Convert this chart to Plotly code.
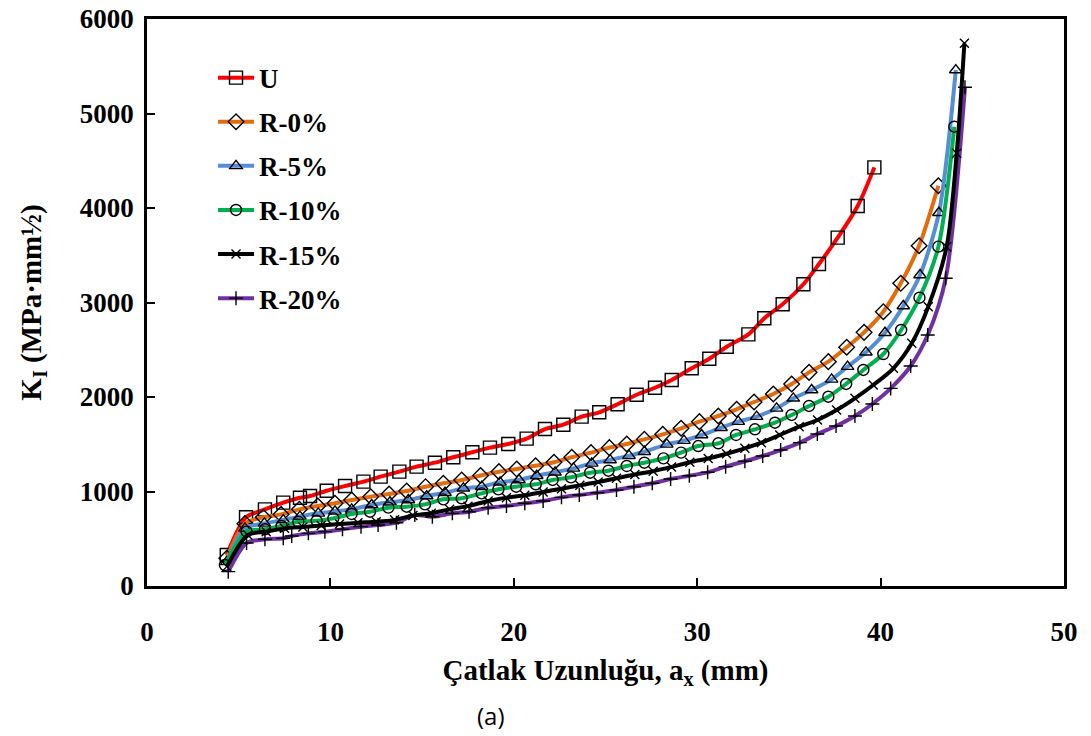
import plotly.graph_objects as go

# ---- data ----
u_x = [4.35, 5.4, 6.43, 7.43, 8.34, 8.89, 9.8, 10.8, 11.8, 12.74, 13.76, 14.7, 15.7, 16.7, 17.74, 18.7,
       19.7, 20.7, 21.7, 22.7, 23.7, 24.66, 25.66, 26.7, 27.7, 28.61, 29.7, 30.66, 31.61, 32.79, 33.66,
       34.66, 35.79, 36.64, 37.66, 38.75, 39.66]
u_y = [328, 727, 811, 882, 934, 952, 1008, 1058, 1104, 1157, 1210, 1263, 1305, 1362, 1415, 1464,
       1503, 1559, 1661, 1707, 1792, 1838, 1923, 2024, 2098, 2180, 2304, 2405, 2532, 2663, 2833,
       2981, 3193, 3407, 3686, 4021, 4430]

r0_x = [4.35, 5.34, 6.34, 7.31, 8.31, 9.31, 10.25, 11.16, 12.2, 13.2, 14.16, 15.19, 16.16, 17.16, 18.19,
        19.19, 20.16, 21.19, 22.19, 23.16, 24.21, 25.21, 26.16, 27.12, 28.12, 29.12, 30.12, 31.15, 32.15,
        33.1, 34.15, 35.15, 36.1, 37.15, 38.15, 39.1, 40.15, 41.1, 42.1, 43.15]
r0_y = [293, 660, 727, 758, 811, 847, 875, 910, 945, 973, 1005, 1051, 1087, 1122, 1170,
        1210, 1238, 1273, 1309, 1362, 1411, 1464, 1503, 1552, 1605, 1669, 1739, 1799, 1870,
        1947, 2032, 2138, 2261, 2374, 2526, 2684, 2903, 3203, 3601, 4236]

r5_x = [4.35, 5.34, 6.4, 7.43, 8.34, 9.34, 10.25, 11.16, 12.25, 13.25, 14.25, 15.25, 16.25, 17.25, 18.25,
        19.25, 20.28, 21.25, 22.25, 23.25, 24.25, 25.25, 26.28, 27.12, 28.34, 29.28, 30.24, 31.3, 32.24,
        33.24, 34.33, 35.24, 36.24, 37.33, 38.2, 39.2, 40.24, 41.24, 42.15, 43.18, 44.1]
r5_y = [255, 610, 663, 698, 735, 769, 790, 811, 857, 886, 910, 952, 987, 1034, 1051,
        1097, 1122, 1167, 1203, 1245, 1298, 1333, 1379, 1421, 1499, 1538, 1598, 1675, 1739,
        1792, 1880, 1986, 2074, 2187, 2321, 2473, 2680, 2963, 3291, 3950, 5460]

r10_x = [4.25, 5.43, 6.43, 7.34, 8.25, 9.25, 10.16, 11.16, 12.16, 13.16, 14.16, 15.16, 16.16, 17.16, 18.25,
         19.16, 20.13, 21.2, 22.12, 23.12, 24.16, 25.16, 26.16, 27.12, 28.16, 29.12, 30.06, 31.15, 32.12,
         33.15, 34.24, 35.15, 36.1, 37.15, 38.12, 39.06, 40.15, 41.12, 42.12, 43.15, 44.02]
r10_y = [222, 575, 600, 635, 680, 690, 716, 762, 786, 829, 839, 864, 917, 928, 980,
         1023, 1051, 1076, 1122, 1150, 1199, 1220, 1270, 1305, 1351, 1411, 1481, 1510, 1598,
         1658, 1728, 1810, 1905, 2003, 2138, 2286, 2455, 2709, 3051, 3591, 4860]

r15_x = [4.35, 5.5, 6.5, 7.5, 8.5, 9.5, 10.5, 11.5, 12.5, 13.5, 14.5, 15.5, 16.5, 17.5, 18.6,
         19.6, 20.6, 21.6, 22.6, 23.6, 24.6, 25.6, 26.6, 27.6, 28.6, 29.6, 30.6, 31.6, 32.6,
         33.5, 34.5, 35.56, 36.56, 37.6, 38.6, 39.6, 40.7, 41.7, 42.6, 43.6, 44.15, 44.57]
r15_y = [205, 540, 575, 610, 625, 640, 655, 670, 680, 700, 745, 770, 811, 845, 900,
         935, 960, 995, 1030, 1065, 1100, 1140, 1180, 1215, 1260, 1310, 1350, 1400, 1457,
         1517, 1598, 1686, 1757, 1862, 1986, 2127, 2304, 2568, 2956, 3590, 4579, 5743]

r20_x = [4.43, 5.43, 6.43, 7.43, 7.89, 8.8, 9.7, 10.66, 11.67, 12.6, 13.6, 14.6, 15.56, 16.65, 17.56,
         18.6, 19.6, 20.6, 21.6, 22.6, 23.57, 24.55, 25.6, 26.55, 27.55, 28.55, 29.57, 30.57, 31.55,
         32.6, 33.57, 34.55, 35.6, 36.55, 37.57, 38.6, 39.55, 40.55, 41.64, 42.57, 43.55, 44.6]
r20_y = [152, 455, 494, 505, 529, 557, 575, 600, 628, 645, 670, 751, 733, 769, 786,
         828, 847, 875, 899, 938, 963, 987, 1016, 1051, 1087, 1132, 1167, 1203, 1263,
         1320, 1376, 1439, 1517, 1608, 1693, 1799, 1926, 2091, 2328, 2656, 3256, 5277]

names = ["U", "R-0%", "R-5%", "R-10%", "R-15%", "R-20%"]
xs = [u_x, r0_x, r5_x, r10_x, r15_x, r20_x]
ys = [u_y, r0_y, r5_y, r10_y, r15_y, r20_y]
colors = ["#FF0000", "#E46C0A", "#558ED5", "#00B050", "#000000", "#7030A0"]
symbols = ["square-open", "diamond-open", "triangle-up-open", "circle-open", "x-thin", "cross-thin"]
sizes = [13, 12, 11, 11, 9, 10]

draw_order = [0, 1, 2, 3, 5, 4]

fig = go.Figure()
for i in draw_order:
    fig.add_trace(go.Scatter(
        x=xs[i], y=ys[i], name=names[i], mode="lines+markers",
        line=dict(color=colors[i], width=4, shape="spline", smoothing=0.8),
        marker=dict(symbol=symbols[i], size=sizes[i], color="black", line=dict(width=1.4, color="black")),
        legendgroup=names[i], legendrank=i + 1,
    ))

serif = "Liberation Serif"
fig.update_layout(
    width=1091, height=736,
    margin=dict(l=147, r=27, t=19, b=150),
    paper_bgcolor="white", plot_bgcolor="white",
    font=dict(family=serif, size=27, color="black"),
    showlegend=True,
    legend=dict(x=0.072, y=0.939, xanchor="left", yanchor="top",
                bgcolor="rgba(0,0,0,0)", tracegroupgap=6, itemwidth=36,
                font=dict(family=serif, size=27, color="black", weight="bold"),
                traceorder="grouped"),
    xaxis=dict(range=[0, 50], dtick=10, tick0=0, showgrid=False, zeroline=False, automargin=False,
               showline=True, linecolor="black", linewidth=2.5, mirror=True,
               ticks="inside", ticklen=8, tickwidth=2, tickcolor="black",
               ticklabelstandoff=20,
               tickfont=dict(family=serif, size=27, weight="bold"),
               title=dict(text="Çatlak Uzunluğu, a<sub>x</sub> (mm)", standoff=14,
                          font=dict(family=serif, size=29, weight="bold"))),
    yaxis=dict(range=[0, 6000], dtick=1000, tick0=0, showgrid=False, zeroline=False, automargin=False,
               showline=True, linecolor="black", linewidth=2.5, mirror=True,
               ticks="inside", ticklen=8, tickwidth=2, tickcolor="black",
               ticklabelstandoff=5,
               tickfont=dict(family=serif, size=27, weight="bold"),
               title=dict(text="K<sub>I</sub> (MPa·mm½)", standoff=30,
                          font=dict(family=serif, size=29, weight="bold"))),
    annotations=[dict(text="(a)", x=(491 - 147) / 917, y=(586 - 715) / 567, xref="paper", yref="paper",
                      xanchor="center", yanchor="middle", showarrow=False,
                      font=dict(family="Open Sans", size=24, color="black"))],
)

fig.write_html("out.html")
